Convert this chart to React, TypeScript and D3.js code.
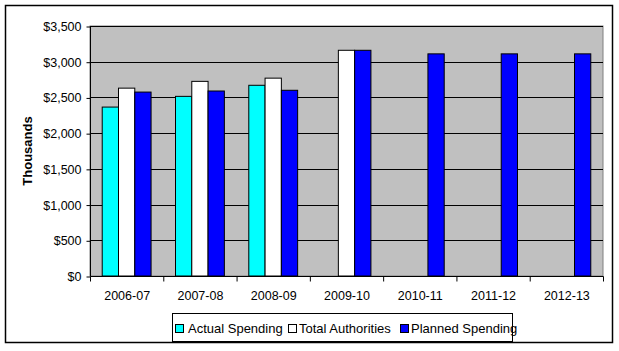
import React from 'react';
import * as d3 from 'd3';

const years = ['2006-07', '2007-08', '2008-09', '2009-10', '2010-11', '2011-12', '2012-13'];
const actualSpending = [2365, 2515, 2670, null, null, null, null];
const totalAuthorities = [2630, 2725, 2770, 3160, null, null, null];
const plannedSpending = [2575, 2590, 2600, 3160, 3110, 3110, 3110];
const yTicks = [0, 500, 1000, 1500, 2000, 2500, 3000, 3500];

const seriesNames = ['Actual Spending', 'Total Authorities', 'Planned Spending'];
const seriesColors = ['#00FFFF', '#FFFFFF', '#0000FF'];

const App = () => {
  const ref = React.useRef<SVGSVGElement>(null);

  React.useEffect(() => {
    const svg = d3.select(ref.current);
    svg.selectAll('*').remove();

    const font = 'Liberation Sans, Arial, sans-serif';
    const left = 90, right = 603, top = 26, bottom = 276;

    // outer frame
    svg.append('rect')
      .attr('x', 5.5).attr('y', 5.5)
      .attr('width', 607).attr('height', 337)
      .attr('fill', '#fff').attr('stroke', '#000').attr('stroke-width', 1.5);

    const x = d3.scaleBand().domain(years).range([left, right]);
    const y = d3.scaleLinear().domain([0, 3500]).range([bottom, top]);

    svg.append('rect')
      .attr('x', left).attr('y', top)
      .attr('width', right - left).attr('height', bottom - top)
      .attr('fill', '#C0C0C0').attr('stroke', '#808080');

    // gridlines
    svg.append('g').selectAll('line')
      .data(yTicks.filter(t => t > 0))
      .enter().append('line')
      .attr('x1', left).attr('x2', right)
      .attr('y1', d => Math.round(y(d)) + 0.5).attr('y2', d => Math.round(y(d)) + 0.5)
      .attr('stroke', '#000');

    const barW = x.bandwidth() / 4.5;
    const series = [actualSpending, totalAuthorities, plannedSpending];
    series.forEach((vals, si) => {
      svg.append('g').selectAll('rect')
        .data(vals.map((v, i) => ({ v, year: years[i] })).filter(d => d.v != null))
        .enter().append('rect')
        .attr('x', d => (x(d.year) as number) + barW * 0.75 + si * barW)
        .attr('y', d => y(d.v as number))
        .attr('width', barW)
        .attr('height', d => bottom - y(d.v as number))
        .attr('fill', seriesColors[si])
        .attr('stroke', '#000').attr('stroke-width', 1);
    });

    // axes
    const yAxis = svg.append('g')
      .attr('transform', `translate(${left + 0.5},0.5)`)
      .call(d3.axisLeft(y).tickValues(yTicks).tickSize(4).tickPadding(5)
        .tickFormat(d => '$' + d3.format(',')(d as number)));
    yAxis.select('.domain').remove();
    yAxis.append('line').attr('y1', top).attr('y2', bottom).attr('stroke', '#000');
    yAxis.selectAll('text').style('font-family', font).style('font-size', '12.5px').attr('fill', '#000');

    const xAxis = svg.append('g')
      .attr('transform', `translate(0.5,${bottom + 0.5})`)
      .call(d3.axisBottom(x).tickSize(5).tickPadding(10));
    xAxis.select('.domain').attr('d', `M${left},0H${right}`);
    xAxis.selectAll('.tick line')
      .attr('transform', `translate(${-x.bandwidth() / 2},0)`);
    xAxis.append('line')
      .attr('x1', right).attr('x2', right).attr('y1', 0).attr('y2', 5).attr('stroke', '#000');
    xAxis.selectAll('text').style('font-family', font).style('font-size', '12.5px').attr('fill', '#000');

    svg.append('text')
      .attr('transform', `translate(32,${(top + bottom) / 2}) rotate(-90)`)
      .attr('text-anchor', 'middle')
      .style('font-family', font).style('font-size', '13px').style('font-weight', 'bold')
      .text('Thousands');

    // legend
    const lg = svg.append('g');
    lg.append('rect')
      .attr('x', 172.5).attr('y', 313.5).attr('width', 340).attr('height', 28)
      .attr('fill', '#fff').attr('stroke', '#000');
    const swatchX = [175, 288, 400];
    const labelX = [188, 299, 411];
    seriesNames.forEach((name, i) => {
      lg.append('rect')
        .attr('x', swatchX[i] + 0.5).attr('y', 324.5).attr('width', 8).attr('height', 8)
        .attr('fill', seriesColors[i]).attr('stroke', '#000');
      lg.append('text')
        .attr('x', labelX[i]).attr('y', 333)
        .style('font-family', font).style('font-size', '13px')
        .text(name);
    });
  }, []);

  return <svg ref={ref} width={619} height={351} style={{ position: 'absolute', left: 0, top: 0 }} />;
};

export default App;
